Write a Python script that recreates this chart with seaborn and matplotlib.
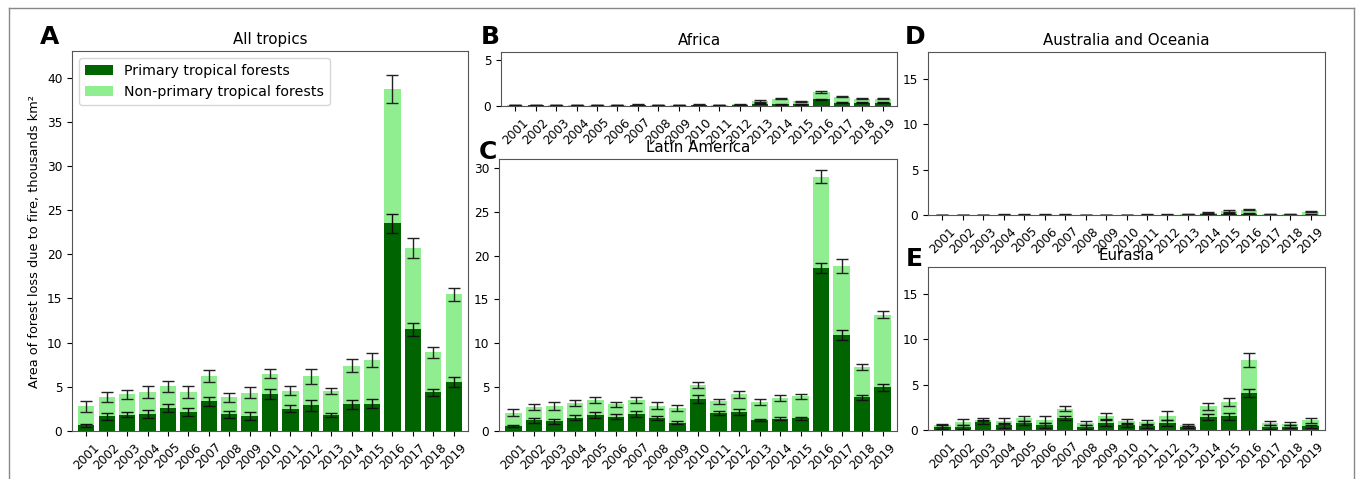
import matplotlib
matplotlib.use("Agg")
import matplotlib.pyplot as plt
from matplotlib.lines import Line2D
import seaborn as sns
import numpy as np

# Data (thousands km2)
years = [str(y) for y in range(2001, 2020)]

# All tropics
trop_total = [2.8, 3.85, 4.15, 4.4, 5.05, 4.4, 6.2, 3.8, 4.35, 6.5, 4.55, 6.2, 4.55, 7.4, 8.0, 38.7, 20.7, 8.9, 15.45]
trop_total_err = [0.6, 0.6, 0.5, 0.65, 0.65, 0.65, 0.65, 0.5, 0.65, 0.55, 0.5, 0.85, 0.35, 0.7, 0.8, 1.6, 1.1, 0.65, 0.7]
trop_prim = [0.65, 1.65, 1.85, 1.95, 2.6, 2.1, 3.35, 1.9, 1.7, 4.2, 2.5, 2.9, 1.8, 3.0, 3.1, 23.5, 11.5, 4.4, 5.55]
trop_prim_err = [0.15, 0.35, 0.3, 0.45, 0.5, 0.45, 0.5, 0.4, 0.4, 0.6, 0.4, 0.6, 0.25, 0.5, 0.5, 1.1, 0.75, 0.4, 0.55]

# Africa
afr_total = [0.12, 0.12, 0.1, 0.1, 0.12, 0.12, 0.15, 0.12, 0.12, 0.15, 0.12, 0.2, 0.55, 0.8, 0.5, 1.55, 1.0, 0.8, 0.8]
afr_total_err = [0.03, 0.03, 0.03, 0.03, 0.03, 0.03, 0.03, 0.03, 0.03, 0.03, 0.03, 0.04, 0.06, 0.06, 0.05, 0.08, 0.06, 0.06, 0.06]
afr_prim = [0.05, 0.06, 0.05, 0.05, 0.05, 0.05, 0.06, 0.05, 0.05, 0.06, 0.05, 0.08, 0.25, 0.2, 0.2, 0.75, 0.35, 0.35, 0.35]
afr_prim_err = [0.02, 0.02, 0.02, 0.02, 0.02, 0.02, 0.02, 0.02, 0.02, 0.02, 0.02, 0.02, 0.04, 0.04, 0.04, 0.06, 0.04, 0.04, 0.04]

# Latin America
lat_total = [2.1, 2.75, 2.85, 3.15, 3.5, 3.05, 3.55, 2.9, 2.6, 5.2, 3.4, 4.2, 3.3, 3.8, 3.95, 29.0, 18.8, 7.3, 13.25]
lat_total_err = [0.4, 0.35, 0.4, 0.35, 0.35, 0.3, 0.35, 0.35, 0.35, 0.35, 0.3, 0.4, 0.3, 0.35, 0.3, 0.75, 0.8, 0.35, 0.4]
lat_prim = [0.55, 1.2, 1.1, 1.5, 1.85, 1.65, 1.9, 1.5, 0.95, 3.65, 2.05, 2.15, 1.25, 1.4, 1.45, 18.6, 10.95, 3.85, 5.0]
lat_prim_err = [0.15, 0.3, 0.25, 0.3, 0.35, 0.3, 0.35, 0.25, 0.2, 0.45, 0.2, 0.35, 0.15, 0.2, 0.2, 0.55, 0.6, 0.3, 0.4]

# Australia and Oceania
aus_total = [0.03, 0.03, 0.03, 0.04, 0.04, 0.05, 0.04, 0.03, 0.03, 0.03, 0.04, 0.04, 0.1, 0.25, 0.45, 0.6, 0.1, 0.1, 0.35]
aus_total_err = [0.02, 0.02, 0.02, 0.02, 0.02, 0.02, 0.02, 0.02, 0.02, 0.02, 0.02, 0.02, 0.03, 0.04, 0.1, 0.1, 0.03, 0.03, 0.05]
aus_prim = [0.01, 0.01, 0.01, 0.01, 0.01, 0.01, 0.01, 0.01, 0.01, 0.01, 0.01, 0.01, 0.03, 0.08, 0.12, 0.15, 0.03, 0.03, 0.05]
aus_prim_err = [0.01, 0.01, 0.01, 0.01, 0.01, 0.01, 0.01, 0.01, 0.01, 0.01, 0.01, 0.01, 0.01, 0.03, 0.05, 0.06, 0.01, 0.01, 0.02]

# Eurasia
eur_total = [0.5, 0.9, 1.15, 1.0, 1.3, 1.15, 2.35, 0.75, 1.55, 0.95, 0.85, 1.6, 0.55, 2.6, 3.05, 7.7, 0.75, 0.7, 1.05]
eur_total_err = [0.2, 0.3, 0.2, 0.35, 0.3, 0.35, 0.3, 0.25, 0.35, 0.25, 0.25, 0.45, 0.15, 0.35, 0.45, 0.75, 0.25, 0.2, 0.25]
eur_prim = [0.3, 0.35, 0.85, 0.5, 0.75, 0.5, 1.35, 0.35, 0.75, 0.55, 0.45, 0.75, 0.3, 1.4, 1.5, 4.1, 0.35, 0.35, 0.4]
eur_prim_err = [0.2, 0.2, 0.2, 0.25, 0.25, 0.25, 0.25, 0.2, 0.3, 0.2, 0.2, 0.3, 0.1, 0.35, 0.35, 0.45, 0.2, 0.15, 0.15]

W, H = 1357, 479
fig = plt.figure(figsize=(W / 100, H / 100), dpi=100)


def px_axes(left, top, right, bottom):
    return fig.add_axes([left / W, 1 - bottom / H, (right - left) / W, (bottom - top) / H])


def draw_panel(ax, title, total, total_err, prim, prim_err, ymax, yticks):
    pos = np.arange(len(years))
    sns.barplot(x=years, y=total, color="lightgreen", saturation=1, width=0.8,
                errorbar=None, ax=ax, label="Non-primary tropical forests")
    sns.barplot(x=years, y=prim, color="darkgreen", saturation=1, width=0.8,
                errorbar=None, ax=ax, label="Primary tropical forests")
    if ax.get_legend() is not None:
        ax.get_legend().remove()
    ax.errorbar(pos, total, yerr=total_err, fmt="none", ecolor="#222222",
                elinewidth=1, capsize=4, capthick=1)
    ax.errorbar(pos, prim, yerr=prim_err, fmt="none", ecolor="#111111",
                elinewidth=1, capsize=4, capthick=1)
    ax.set_xlim(-0.7, len(years) - 0.3)
    ax.set_ylim(0, ymax)
    ax.set_yticks(yticks)
    ax.set_title(title, fontsize=10.8, pad=5)
    ax.set_xlabel("")
    ax.tick_params(axis="both", labelsize=8.7)
    plt.setp(ax.get_xticklabels(), rotation=45, ha="center")
    for s in ax.spines.values():
        s.set_color("#555555")


axA = px_axes(72, 51, 468, 431)
axB = px_axes(501, 52, 897, 106)
axC = px_axes(499, 159, 897, 431)
axD = px_axes(928, 52, 1325, 215)
axE = px_axes(928, 267, 1325, 430)

draw_panel(axA, "All tropics", trop_total, trop_total_err, trop_prim, trop_prim_err, 43, range(0, 41, 5))
draw_panel(axB, "Africa", afr_total, afr_total_err, afr_prim, afr_prim_err, 5.9, [0, 5])
draw_panel(axC, "Latin America", lat_total, lat_total_err, lat_prim, lat_prim_err, 31, range(0, 31, 5))
draw_panel(axD, "Australia and Oceania", aus_total, aus_total_err, aus_prim, aus_prim_err, 18, [0, 5, 10, 15])
draw_panel(axE, "Eurasia", eur_total, eur_total_err, eur_prim, eur_prim_err, 18, [0, 5, 10, 15])

axA.set_ylabel("Area of forest loss due to fire, thousands km²", fontsize=9.3)
handles, labels = axA.get_legend_handles_labels()
axA.legend(handles[::-1], labels[::-1], loc="upper left", fontsize=10.2,
           frameon=True, borderaxespad=0.5)

# panel letters
for letter, x, y in [("A", 40, 44), ("B", 481, 44), ("C", 479, 159), ("D", 905, 44), ("E", 906, 266)]:
    fig.text(x / W, 1 - y / H, letter, fontsize=18, fontweight="bold", ha="left", va="baseline")

# outer frame
frame_kw = dict(color="#888888", linewidth=1, transform=fig.transFigure)
fig.add_artist(Line2D([9 / W, 1354 / W], [1 - 8 / H, 1 - 8 / H], **frame_kw))
fig.add_artist(Line2D([9 / W, 9 / W], [0, 1 - 8 / H], **frame_kw))
fig.add_artist(Line2D([1354 / W, 1354 / W], [0, 1 - 8 / H], **frame_kw))

fig.savefig("out.png", dpi=100)
